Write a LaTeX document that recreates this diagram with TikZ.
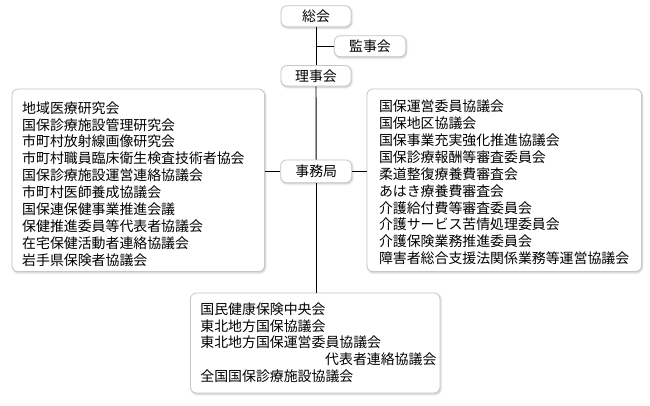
\documentclass[tikz,border=0pt]{standalone}
\usepackage{fontspec}
\setmainfont{Noto Sans CJK JP}
\usetikzlibrary{shadows.blur}
\begin{document}
\begin{tikzpicture}[x=1pt,y=-1pt,
  panel/.style={draw=black!22, line width=0.8pt, rounded corners=6pt, fill=white,
    blur shadow={shadow xshift=0.8pt, shadow yshift=-1.2pt, shadow blur radius=2pt, shadow opacity=25},
    inner sep=0pt},
  smallbox/.style={panel, minimum width=70pt, minimum height=21pt, font=\fontsize{13.9}{16.9}\selectfont},
  listtext/.style={anchor=north west, inner sep=0pt, align=left, font=\fontsize{13.9}{16.9}\selectfont},
  link/.style={draw=black, line width=0.9pt}]
\useasboundingbox (0,0) rectangle (650,405);

\node[smallbox] (sokai) at (316,16.3) {総会};
\node[smallbox, minimum width=71.5pt] (kanji) at (370,46.2) {監事会};
\node[smallbox, minimum height=20.5pt] (riji) at (316,75.8) {理事会};
\node[smallbox, minimum width=71pt, minimum height=22.7pt] (jimu) at (316.2,171.3) {事務局};

\node[panel, minimum width=252.5pt, minimum height=182.5pt] (leftp) at (138.3,180.3) {};
\node[panel, minimum width=274.5pt, minimum height=182.5pt] (rightp) at (504.25,180.25) {};
\node[panel, minimum width=249.5pt, minimum height=100pt] (botp) at (315.25,343) {};

\node[listtext] (lefttxt) at (22,101.3) {地域医療研究会\\国保診療施設管理研究会\\市町村放射線画像研究会\\市町村職員臨床衛生検査技術者協会\\国保診療施設運営連絡協議会\\市町村医師養成協議会\\国保連保健事業推進会議\\保健推進委員等代表者協議会\\在宅保健活動者連絡協議会\\岩手県保険者協議会};
\node[listtext] (righttxt) at (378.8,99.7) {国保運営委員協議会\\国保地区協議会\\国保事業充実強化推進協議会\\国保診療報酬等審査委員会\\柔道整復療養費審査会\\あはき療養費審査会\\介護給付費等審査委員会\\介護サービス苦情処理委員会\\介護保険業務推進委員会\\障害者総合支援法関係業務等運営協議会};
\node[listtext, text width=236pt] (bottxt) at (200.2,302.3) {国民健康保険中央会\\東北地方国保協議会\\東北地方国保運営委員協議会\\\hspace*{\fill}代表者連絡協議会\\全国国保診療施設協議会};

\draw[link] (sokai) -- (riji);
\draw[link] (riji) -- (jimu);
\draw[link] (jimu.south) -- (jimu.south |- botp.north);
\coordinate (kj) at (sokai.south |- kanji.west);
\draw[link] (kj) -- (kanji.west);
\draw[link] (jimu.west) -- (jimu.west -| leftp.east);
\draw[link] (jimu.east) -- (jimu.east -| rightp.west);
\end{tikzpicture}
\end{document}
